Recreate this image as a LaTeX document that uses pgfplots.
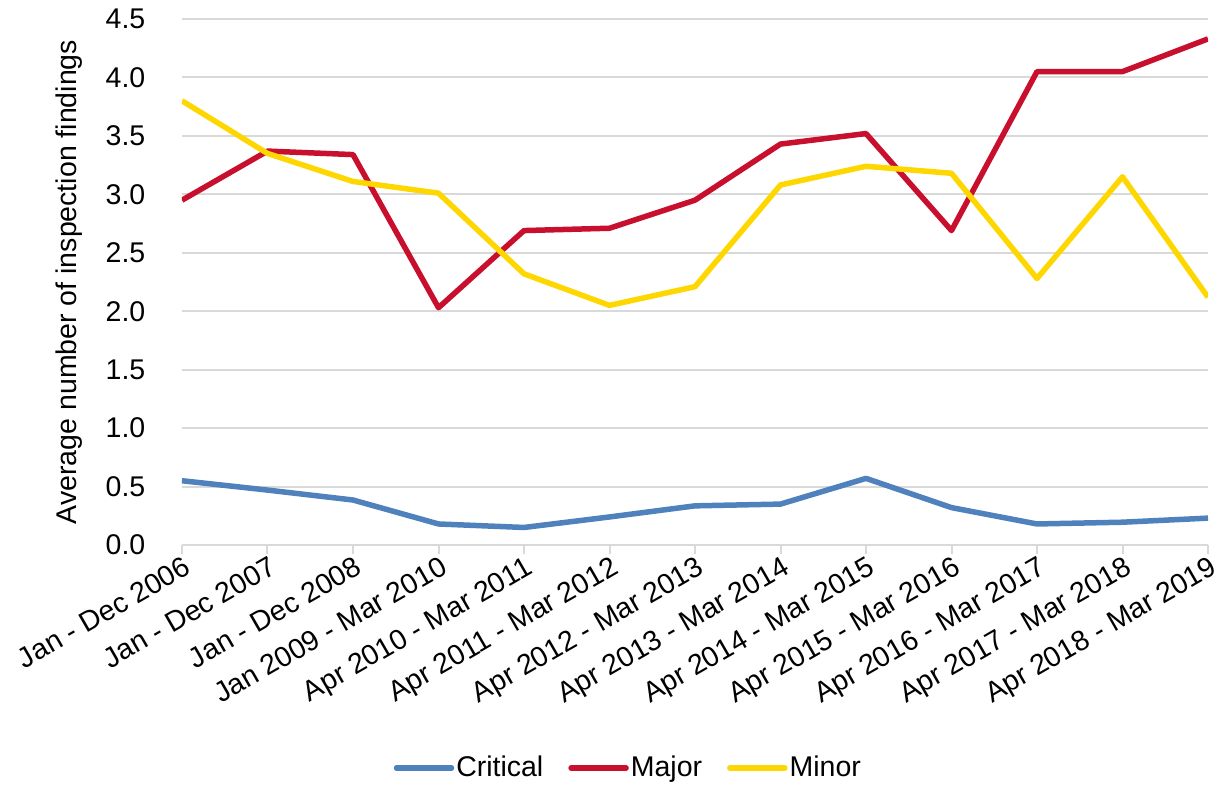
\documentclass[border=0pt]{standalone}
\usepackage{pgfplots}
\pgfplotsset{compat=1.18}
\usepackage{fontspec}
\setmainfont{Liberation Sans}
\definecolor{crit}{RGB}{79,129,189}
\definecolor{major}{RGB}{200,16,46}
\definecolor{minor}{RGB}{255,215,0}
\definecolor{gridgray}{RGB}{217,217,217}
\newcommand{\bigf}{\fontsize{28.5}{34}\selectfont}
\begin{document}
\bigf
\begin{tikzpicture}
\begin{axis}[
  name=ax,
  scale only axis, width=1026pt, height=526pt,
  xmin=0, xmax=12, ymin=0, ymax=4.5,
  xtick={0,...,12},
  xticklabels={Jan - Dec 2006, Jan - Dec 2007, Jan - Dec 2008, Jan 2009 - Mar 2010, Apr 2010 - Mar 2011, Apr 2011 - Mar 2012, Apr 2012 - Mar 2013, Apr 2013 - Mar 2014, Apr 2014 - Mar 2015, Apr 2015 - Mar 2016, Apr 2016 - Mar 2017, Apr 2017 - Mar 2018, Apr 2018 - Mar 2019},
  xticklabel style={rotate=30, anchor=north east, inner sep=1pt, font=\bigf, xshift=1pt, yshift=0pt},
  ytick={0,0.5,1,1.5,2,2.5,3,3.5,4,4.5},
  yticklabel style={font=\bigf, xshift=-18pt, /pgf/number format/.cd, fixed, fixed zerofill, precision=1},
  /pgf/number format/assume math mode=true,
  ymajorgrids, grid style={color=gridgray, line width=2pt},
  axis x line*=bottom, axis y line*=left,
  x axis line style={color=gridgray, line width=2pt},
  y axis line style={draw=none},
  ytick style={draw=none},
  xtick style={color=gridgray, line width=2pt},
  tick align=outside, major tick length=9pt,
  ylabel={Average number of inspection findings},
  ylabel style={font=\bigf, yshift=4pt},
  legend style={at={(0.435,-0.424)}, anchor=center, draw=none, legend columns=3,
    font=\bigf, inner sep=0pt,
    /tikz/every even column/.append style={column sep=23pt},
    /tikz/every odd column/.append style={column sep=0pt},
    nodes={inner sep=2pt}},
  legend image code/.code={\draw[#1, line cap=round] (0pt,0pt) -- (55pt,0pt);},
  every axis plot/.append style={line width=5.5pt, line join=round, no markers},
]
\addplot[crit] table {
x y
0 0.55
1 0.47
2 0.385
3 0.18
4 0.15
5 0.24
6 0.335
7 0.35
8 0.57
9 0.32
10 0.18
11 0.195
12 0.23
};
\addlegendentry{Critical}
\addplot[major] table {
x y
0 2.95
1 3.37
2 3.34
3 2.03
4 2.69
5 2.71
6 2.95
7 3.43
8 3.52
9 2.69
10 4.05
11 4.05
12 4.33
};
\addlegendentry{Major}
\addplot[minor] table {
x y
0 3.80
1 3.35
2 3.11
3 3.01
4 2.32
5 2.05
6 2.21
7 3.08
8 3.24
9 3.18
10 2.28
11 3.15
12 2.12
};
\addlegendentry{Minor}
\end{axis}
\pgfresetboundingbox
\path ([xshift=-182pt,yshift=19pt]ax.north west) rectangle ([xshift=11pt,yshift=-240pt]ax.south east);
\end{tikzpicture}
\end{document}
